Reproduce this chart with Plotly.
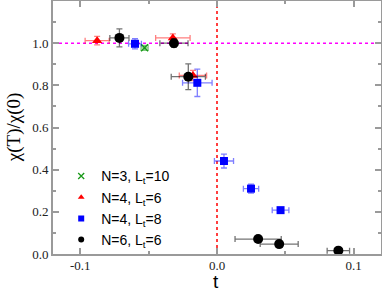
import plotly.graph_objects as go

# N=3, Lt=10
n3_x = [-0.053]
n3_y = [0.978]
n3_xerr = [0.0026]
n3_yerr = [0.012]

# N=4, Lt=6
n4a_x = [-0.0877, -0.0323, -0.0176]
n4a_y = [1.012, 1.025, 0.847]
n4a_xerr = [0.0088, 0.0126, 0.010]
n4a_yerr = [0.020, 0.019, 0.024]

# N=4, Lt=8
n4b_x = [-0.060, -0.0144, 0.0051, 0.0249, 0.0465]
n4b_y = [0.997, 0.812, 0.441, 0.310, 0.208]
n4b_xerr = [0.0047, 0.0108, 0.0070, 0.0056, 0.0061]
n4b_yerr = [0.024, 0.065, 0.033, 0.021, 0.010]

# N=6, Lt=6
n6_x = [-0.0714, -0.0315, -0.021, 0.0301, 0.0455, 0.0888]
n6_y = [1.025, 1.000, 0.841, 0.071, 0.047, 0.016]
n6_xerr = [0.0070, 0.0103, 0.0125, 0.0169, 0.0139, 0.0082]
n6_yerr = [0.043, 0.020, 0.061, 0.005, 0.005, 0.005]

x_ticks = [-0.1, 0.0, 0.1]
x_ticklabels = ["-0.1", "0.0", "0.1"]
y_ticks = [0.0, 0.2, 0.4, 0.6, 0.8, 1.0]
y_ticklabels = ["0.0", "0.2", "0.4", "0.6", "0.8", "1.0"]

series = [
    ("N=3, L<sub>t</sub>=10", n3_x, n3_y, n3_xerr, n3_yerr, "#1a9a1a", "x-thin", 7, "rgba(26,154,26,0.55)"),
    ("N=4, L<sub>t</sub>=6", n4a_x, n4a_y, n4a_xerr, n4a_yerr, "#ff0000", "triangle-up", 9, "rgba(255,0,0,0.5)"),
    ("N=4, L<sub>t</sub>=8", n4b_x, n4b_y, n4b_xerr, n4b_yerr, "#0000ff", "square", 8, "rgba(0,0,255,0.5)"),
    ("N=6, L<sub>t</sub>=6", n6_x, n6_y, n6_xerr, n6_yerr, "#000000", "circle", 10, "rgba(0,0,0,0.55)"),
]

fig = go.Figure()
for name, xs, ys, xe, ye, col, sym, sz, ecol in series:
    lw = 1.5 if sym == "x-thin" else 0
    fig.add_trace(go.Scatter(
        x=xs, y=ys, mode="markers", name=name, showlegend=False,
        marker=dict(symbol=sym, color=col, size=sz, line=dict(color=col, width=lw)),
        error_x=dict(type="data", array=xe, visible=True, color=ecol, thickness=1.3, width=3),
        error_y=dict(type="data", array=ye, visible=True, color=ecol, thickness=1.3, width=3),
    ))
# legend entries with small symbols
for name, xs, ys, xe, ye, col, sym, sz, ecol in series:
    lw = 1.3 if sym == "x-thin" else 0
    fig.add_trace(go.Scatter(
        x=[None], y=[None], mode="markers", name=name, showlegend=True,
        marker=dict(symbol=sym, color=col, size=6, line=dict(color=col, width=lw)),
    ))

fig.add_shape(type="line", xref="x", yref="y", x0=0, x1=0, y0=0, y1=1.2,
              line=dict(color="#ff0000", width=1.5, dash="dot"), layer="below")
fig.add_shape(type="line", xref="x", yref="y", x0=-0.12, x1=0.12, y0=1.0, y1=1.0,
              line=dict(color="#ff00ff", width=1.5, dash="dot"), layer="below")

axis_common = dict(
    showline=True, linecolor="#9a9a9a", linewidth=2, mirror="ticks",
    ticks="inside", ticklen=6, tickcolor="#9a9a9a", tickwidth=1.5,
    showgrid=False, zeroline=False, automargin=False,
    tickfont=dict(family="Liberation Serif", size=13, color="#222222"),
)

fig.update_xaxes(range=[-0.12, 0.12], tickvals=x_ticks, ticktext=x_ticklabels,
                 ticklabelstandoff=-2,
                 minor=dict(dtick=0.05, ticklen=3, ticks="inside", tickcolor="#9a9a9a"),
                 **axis_common)
fig.update_yaxes(range=[0, 1.2], tickvals=y_ticks, ticktext=y_ticklabels,
                 minor=dict(dtick=0.1, ticklen=3, ticks="inside", tickcolor="#9a9a9a"),
                 **axis_common)

fig.add_annotation(text="t", xref="paper", yref="paper", x=0.496, y=-0.064,
                   xanchor="center", yanchor="top", showarrow=False, borderpad=0,
                   font=dict(family="Liberation Sans", size=19, color="#000"))
fig.add_annotation(text="χ(T)/χ(0)", xref="paper", yref="paper", x=-0.12, y=0.5,
                   xanchor="center", yanchor="middle", showarrow=False, textangle=-90,
                   font=dict(family="Liberation Serif", size=19, color="#000"))

fig.update_layout(
    width=382, height=291,
    margin=dict(l=53, r=1, t=1, b=37),
    paper_bgcolor="white", plot_bgcolor="white",
    legend=dict(x=0.025, y=0.37, xanchor="left", yanchor="top",
                bgcolor="rgba(0,0,0,0)", tracegroupgap=0,
                font=dict(family="Liberation Sans", size=14, color="#000")),
    showlegend=True,
)

fig.write_html("out.html", config={"displayModeBar": False},
               post_script="document.body.style.margin='0';document.body.style.padding='0';")
